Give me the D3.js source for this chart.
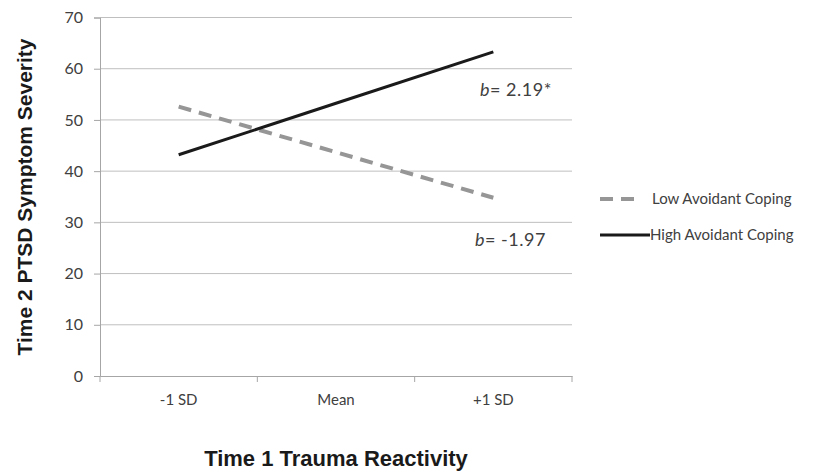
<!DOCTYPE html>
<html>
<head>
<meta charset="utf-8">
<script src="https://cdn.jsdelivr.net/npm/d3@7"></script>
<style>
  body { margin: 0; background: #fff; }
  svg { display: block; }
</style>
</head>
<body>
<div id="chart"></div>
<script>
var categories = ["-1 SD", "Mean", "+1 SD"];
var lowAvoidant = [52.6, 43.7, 34.8];
var highAvoidant = [43.2, 53.25, 63.3];
var yTicks = [0, 10, 20, 30, 40, 50, 60, 70];
var seriesNames = ["Low Avoidant Coping", "High Avoidant Coping"];

var width = 814, height = 472;
var margin = {top: 17.5, right: 242, bottom: 96, left: 100};

var svg = d3.select("#chart").append("svg")
  .attr("width", width)
  .attr("height", height);

var g = svg.append("g")
  .attr("transform", "translate(" + margin.left + "," + margin.top + ")");

var w = width - margin.left - margin.right,
    h = height - margin.top - margin.bottom;

var x = d3.scaleBand().domain(categories).range([0, w]);
var y = d3.scaleLinear().domain([0, 70]).range([h, 0]);

// gridlines
g.selectAll(".grid")
  .data(yTicks.slice(1))
  .enter().append("line")
  .attr("x1", 0).attr("x2", w)
  .attr("y1", function (d) { return y(d); })
  .attr("y2", function (d) { return y(d); })
  .attr("stroke", "#bfbfbf")
  .attr("stroke-width", 1);

var tickFont = "Lato, 'Open Sans', sans-serif";

var yAxis = g.append("g")
  .call(d3.axisLeft(y).tickValues(yTicks).tickSize(6).tickPadding(11));
yAxis.select(".domain").attr("stroke", "#a6a6a6");
yAxis.selectAll(".tick line").attr("stroke", "#a6a6a6");
yAxis.selectAll("text")
  .style("font-family", tickFont)
  .style("font-size", "16px")
  .attr("fill", "#404040");

var xAxis = g.append("g")
  .attr("transform", "translate(0," + h + ")")
  .call(d3.axisBottom(x).tickSize(0).tickPadding(18));
xAxis.select(".domain").attr("stroke", "#a6a6a6");
xAxis.selectAll("text")
  .style("font-family", tickFont)
  .style("font-size", "15px")
  .attr("fill", "#404040");

// category boundary ticks
g.selectAll(".bt")
  .data(categories.concat([null]))
  .enter().append("line")
  .attr("x1", function (d, i) { return i * x.bandwidth(); })
  .attr("x2", function (d, i) { return i * x.bandwidth(); })
  .attr("y1", h).attr("y2", h + 6)
  .attr("stroke", "#a6a6a6");

var line = d3.line()
  .x(function (d, i) { return x(categories[i]) + x.bandwidth() / 2; })
  .y(function (d) { return y(d); });

g.append("path")
  .datum(lowAvoidant)
  .attr("fill", "none")
  .attr("stroke", "#969696")
  .attr("stroke-width", 4)
  .attr("stroke-dasharray", "13,8")
  .attr("d", line);

g.append("path")
  .datum(highAvoidant)
  .attr("fill", "none")
  .attr("stroke", "#1a1a1a")
  .attr("stroke-width", 3)
  .attr("d", line);

// slope annotations
function slopeLabel(tx, ty, val) {
  var t = svg.append("text")
    .attr("x", tx).attr("y", ty)
    .style("font-family", tickFont)
    .style("font-size", "18px")
    .style("letter-spacing", "0.5px")
    .attr("fill", "#404040");
  t.append("tspan").style("font-style", "italic").text("b");
  t.append("tspan").text("= " + val);
}
slopeLabel(480, 96, "2.19*");
slopeLabel(475, 246, "-1.97");

// legend
var legend = svg.append("g").attr("transform", "translate(600,0)");
legend.append("line")
  .attr("x1", 0).attr("x2", 40).attr("y1", 199).attr("y2", 199)
  .attr("stroke", "#969696").attr("stroke-width", 4)
  .attr("stroke-dasharray", "13,8");
legend.append("line")
  .attr("x1", 0).attr("x2", 50).attr("y1", 235).attr("y2", 235)
  .attr("stroke", "#1a1a1a").attr("stroke-width", 3);
legend.selectAll(".lt")
  .data(seriesNames)
  .enter().append("text")
  .attr("x", function (d, i) { return i === 0 ? 52 : 50; })
  .attr("y", function (d, i) { return i === 0 ? 204 : 240; })
  .style("font-family", tickFont)
  .style("font-size", "15px")
  .attr("fill", "#404040")
  .text(function (d) { return d; });

// axis titles
svg.append("text")
  .attr("x", margin.left + w / 2)
  .attr("y", 466)
  .attr("text-anchor", "middle")
  .style("font-family", "'Liberation Sans', Arial, sans-serif")
  .style("font-weight", "bold")
  .style("font-size", "22px")
  .attr("fill", "#1a1a1a")
  .text("Time 1 Trauma Reactivity");

svg.append("text")
  .attr("transform", "translate(32,197) rotate(-90)")
  .attr("text-anchor", "middle")
  .style("font-family", "'Liberation Sans', Arial, sans-serif")
  .style("font-weight", "bold")
  .style("font-size", "21px")
  .attr("fill", "#1a1a1a")
  .text("Time 2 PTSD Symptom Severity");
</script>
</body>
</html>
